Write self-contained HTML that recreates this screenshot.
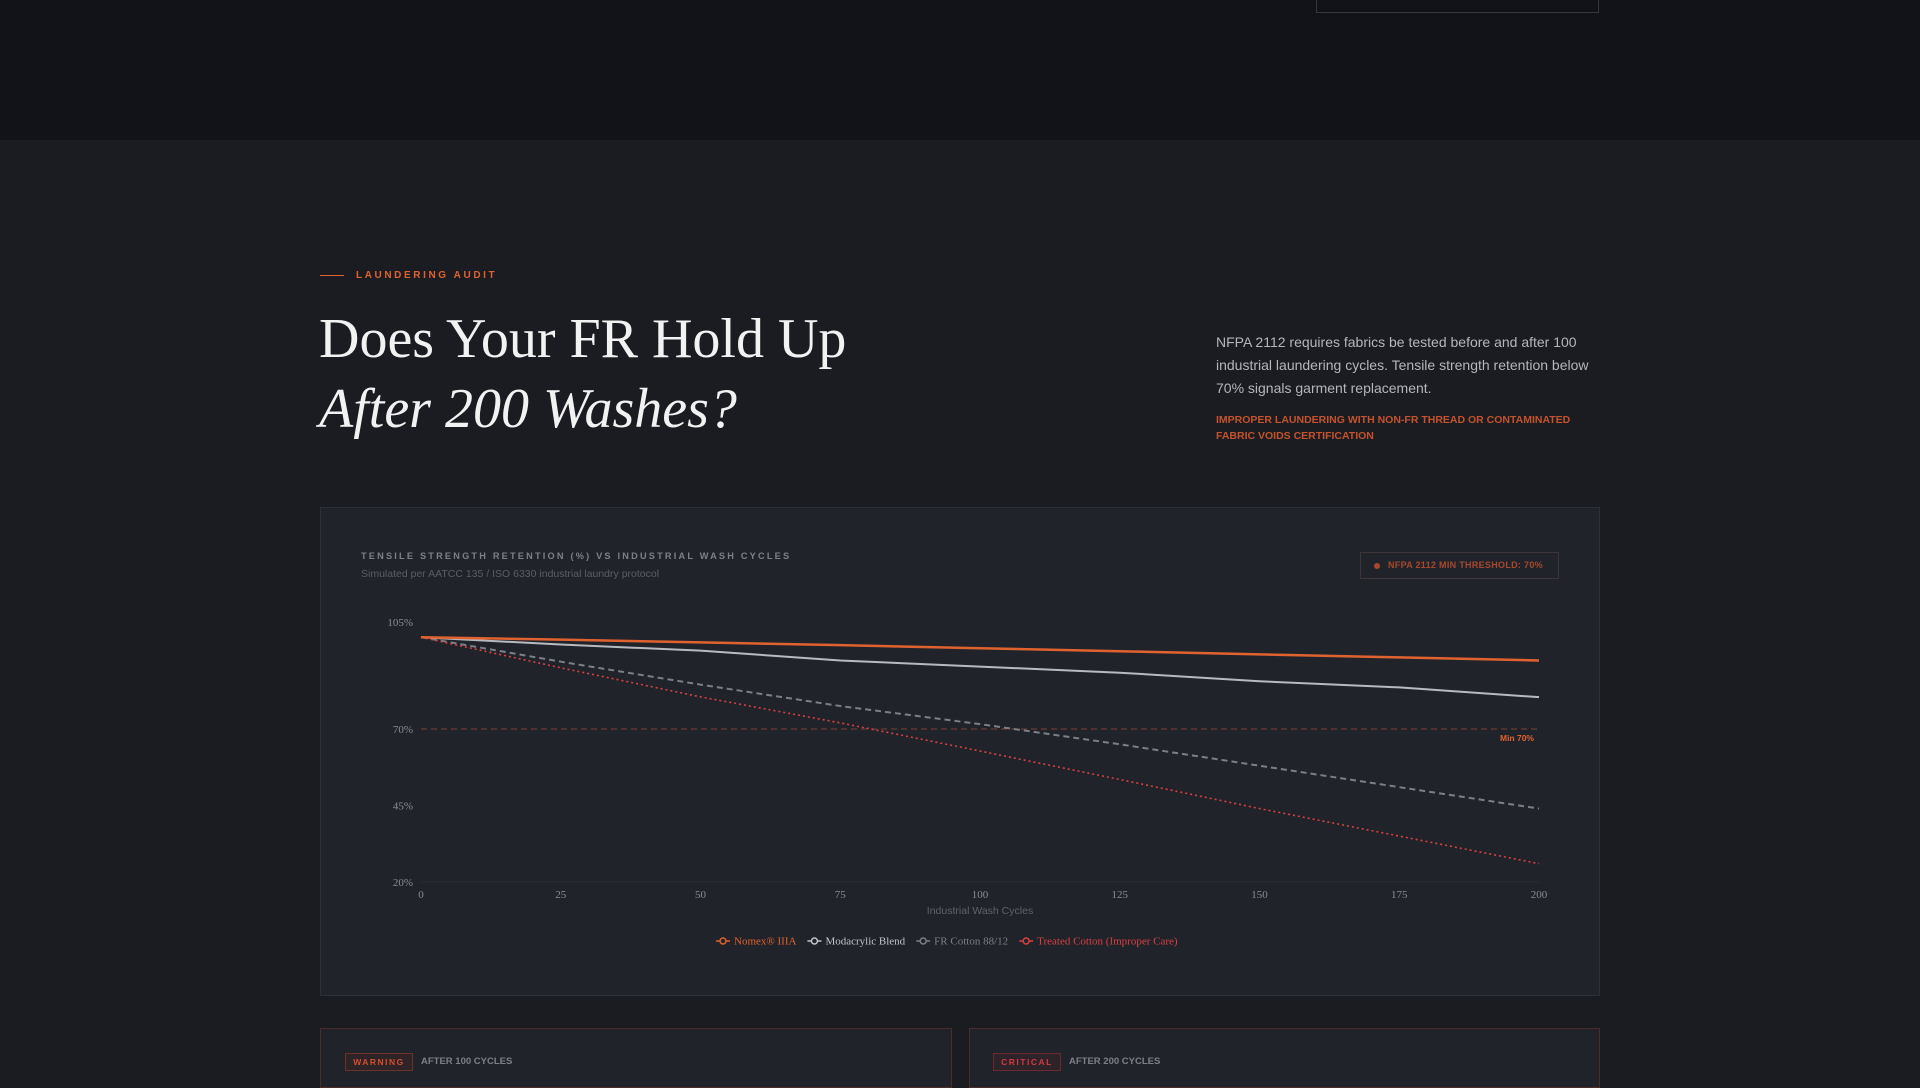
<!DOCTYPE html>
<html><head><meta charset="utf-8"><style>
*{margin:0;padding:0;box-sizing:border-box}
body{width:1920px;height:1080px;overflow:hidden;background:#1b1c22;font-family:"Liberation Sans",sans-serif;position:relative}
.abs{position:absolute}
</style></head><body>
<div class="abs" style="left:0;top:0;width:1920px;height:140px;background:#121318"></div>
<div class="abs" style="left:1316px;top:-2px;width:283px;height:15px;border:1px solid #34363e;border-top:none"></div>

<div class="abs" style="left:320px;top:275px;width:24px;height:1px;background:#e0622e"></div>
<div class="abs" style="left:356px;top:270px;font-size:10px;font-weight:bold;letter-spacing:2.6px;color:#e0622e">LAUNDERING AUDIT</div>
<div class="abs" style="left:319px;top:304px;font-family:'Liberation Serif',serif;font-size:56px;line-height:70px;color:#f2f2f2">Does Your FR Hold Up<br><i>After 200 Washes?</i></div>

<div class="abs" style="left:1216px;top:331px;width:385px;font-size:14px;line-height:23px;color:#b4b6bc">NFPA 2112 requires fabrics be tested before and after 100 industrial laundering cycles. Tensile strength retention below 70% signals garment replacement.</div>
<div class="abs" style="left:1216px;top:412px;width:390px;font-size:10.5px;line-height:16px;font-weight:bold;color:#c4532c">IMPROPER LAUNDERING WITH NON-FR THREAD OR CONTAMINATED FABRIC VOIDS CERTIFICATION</div>

<div class="abs" style="left:320px;top:507px;width:1280px;height:489px;background:#21232b;border:1px solid #2e3038"></div>
<div class="abs" style="left:361px;top:551px;font-size:9.2px;font-weight:bold;letter-spacing:2.2px;color:#7d8088">TENSILE STRENGTH RETENTION (%) VS INDUSTRIAL WASH CYCLES</div>
<div class="abs" style="left:361px;top:568px;font-size:10.5px;color:#5b5e66">Simulated per AATCC 135 / ISO 6330 industrial laundry protocol</div>
<div class="abs" style="left:1360px;top:552px;width:199px;height:27px;border:1px solid #3e3336;font-size:9px;font-weight:bold;color:#a8472c;line-height:25px;padding-left:27px;letter-spacing:0.3px">NFPA 2112 MIN THRESHOLD: 70%<span style="position:absolute;left:13px;top:10px;width:6px;height:6px;border-radius:50%;background:#a8472c"></span></div>

<svg class="abs" style="left:0;top:0" width="1920" height="1080" id="chart"></svg>

<div class="abs" style="left:320px;top:1028px;width:632px;height:60px;background:#21232b;border:1px solid #4a2d2b"></div>
<div class="abs" style="left:345px;top:1053px;width:68px;height:18px;border:1px solid #6b3228;background:#2e2326;color:#d2502e;font-size:8.5px;font-weight:bold;letter-spacing:1.5px;text-align:center;line-height:16px">WARNING</div>
<div class="abs" style="left:421px;top:1056px;font-size:9.5px;font-weight:bold;color:#7d8088">AFTER 100 CYCLES</div>
<div class="abs" style="left:969px;top:1028px;width:631px;height:60px;background:#21232b;border:1px solid #4a2d2b"></div>
<div class="abs" style="left:993px;top:1053px;width:68px;height:18px;border:1px solid #6b2830;background:#2e2328;color:#d23a44;font-size:8.5px;font-weight:bold;letter-spacing:1.5px;text-align:center;line-height:16px">CRITICAL</div>
<div class="abs" style="left:1069px;top:1056px;font-size:9.5px;font-weight:bold;color:#7d8088">AFTER 200 CYCLES</div>

<script>
const cycles=[0,25,50,75,100,125,150,175,200];
const nomex=[100,99.2,98.3,97.4,96.4,95.4,94.4,93.4,92.4];
const modacrylic=[100,97.6,95.6,92.4,90.4,88.4,85.6,83.6,80.4];
const frCotton=[100,92,84.5,77.5,71.6,65,58,51,44];
const treated=[100,90,80.5,72,62.8,53.5,44,35,26];
const yTicks=[20,45,70,105];
const xTicks=[0,25,50,75,100,125,150,175,200];
const threshold=70;
const NS='http://www.w3.org/2000/svg';
const svg=document.getElementById('chart');
const X=v=>421+(v/200)*1118;
const Y=v=>882-(v-20)*3.06;
function mk(t,a){const e=document.createElementNS(NS,t);for(const k in a)e.setAttribute(k,a[k]);svg.appendChild(e);return e;}
let g=mk('line',{x1:X(0),x2:X(200),y1:Y(20),y2:Y(20),stroke:'#2c2e36','stroke-width':1});


yTicks.forEach(v=>{const t=mk('text',{x:413,y:Y(v)+4,'text-anchor':'end','font-family':'Liberation Serif,serif','font-size':11,fill:'#8a8d95'});t.textContent=v+'%';

});
xTicks.forEach(v=>{const t=mk('text',{x:X(v),y:898,'text-anchor':'middle','font-family':'Liberation Serif,serif','font-size':11,fill:'#8a8d95'});t.textContent=v;

});
let at=mk('text',{x:X(100),y:914,'text-anchor':'middle','font-size':10.5,fill:'#5f626a'});at.textContent='Industrial Wash Cycles';


let th=mk('line',{x1:X(0),x2:X(200),y1:Y(threshold),y2:Y(threshold),stroke:'#6a3b33','stroke-width':1.2,'stroke-dasharray':'6 4'});


let tl=mk('text',{x:X(200)-5,y:Y(threshold)+12,'text-anchor':'end','font-size':8.5,'font-weight':'bold',fill:'#e0622e'});tl.textContent='Min 70%';


const series=[
 {d:frCotton,c:'#7c7f87',w:2,da:'6 4',n:'series-fr-cotton'},
 {d:treated,c:'#d94040',w:1.6,da:'2 3',n:'series-treated-cotton'},
 {d:modacrylic,c:'#b8bac0',w:2,da:'',n:'series-modacrylic'},
 {d:nomex,c:'#e0622e',w:2.5,da:'',n:'series-nomex'}];
series.forEach(s=>{const p=mk('path',{d:s.d.map((v,i)=>(i?'L':'M')+X(cycles[i])+' '+Y(v)).join(''),fill:'none',stroke:s.c,'stroke-width':s.w,'stroke-dasharray':s.da});

});
const legend=[['Nomex® IIIA','#e0622e'],['Modacrylic Blend','#c4c6cc'],['FR Cotton 88/12','#7c7f87'],['Treated Cotton (Improper Care)','#d94040']];
let lx=716;
legend.forEach(([n,c])=>{
 const l=mk('line',{x1:lx,x2:lx+14,y1:941,y2:941,stroke:c,'stroke-width':1.5});
 
 
 const ci=mk('circle',{cx:lx+7,cy:941,r:3,fill:'#21232b',stroke:c,'stroke-width':1.5});
 
 
 const t=mk('text',{x:lx+18,y:944.5,'font-family':'Liberation Serif,serif','font-size':11,fill:c});t.textContent=n;
 
 
 lx+=18+t.getComputedTextLength()+11;
});
</script>
</body></html>
